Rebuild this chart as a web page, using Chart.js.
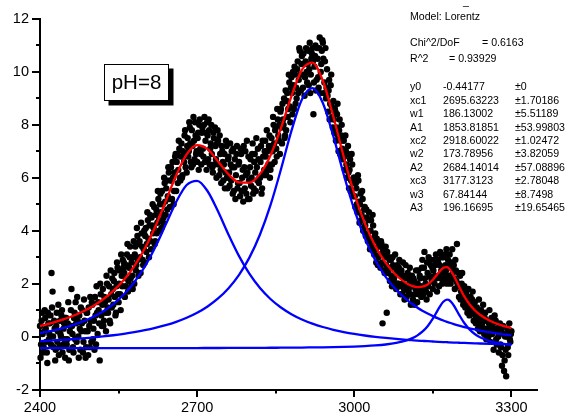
<!DOCTYPE html>
<html><head><meta charset="utf-8">
<script src="https://cdn.jsdelivr.net/npm/chart.js@4/dist/chart.umd.min.js"></script>
<style>html,body{margin:0;padding:0;background:#fff}canvas{display:block}</style>
</head><body>
<canvas id="c" width="576" height="414"></canvas>
<script>
// ---- measured points (intensity vs wavenumber), even wavenumbers ----
const scatterX = [
2400,2402,2404,2406,2408, 2410,2412,2414,2416,2418, 2420,2422,2424,2426,2428, 2430,2432,2434,2436,2438,
2440,2442,2444,2446,2448, 2450,2452,2454,2456,2458, 2460,2462,2464,2466,2468, 2470,2472,2474,2476,2478,
2480,2482,2484,2486,2488, 2490,2492,2494,2496,2498, 2500,2502,2504,2506,2508, 2510,2512,2514,2516,2518,
2520,2522,2524,2526,2528, 2530,2532,2534,2536,2538, 2540,2542,2544,2546,2548, 2550,2552,2554,2556,2558,
2560,2562,2564,2566,2568, 2570,2572,2574,2576,2578, 2580,2582,2584,2586,2588, 2590,2592,2594,2596,2598,
2600,2602,2604,2606,2608, 2610,2612,2614,2616,2618, 2620,2622,2624,2626,2628, 2630,2632,2634,2636,2638,
2640,2642,2644,2646,2648, 2650,2652,2654,2656,2658, 2660,2662,2664,2666,2668, 2670,2672,2674,2676,2678,
2680,2682,2684,2686,2688, 2690,2692,2694,2696,2698, 2700,2702,2704,2706,2708, 2710,2712,2714,2716,2718,
2720,2722,2724,2726,2728, 2730,2732,2734,2736,2738, 2740,2742,2744,2746,2748, 2750,2752,2754,2756,2758,
2760,2762,2764,2766,2768, 2770,2772,2774,2776,2778, 2780,2782,2784,2786,2788, 2790,2792,2794,2796,2798,
2800,2802,2804,2806,2808, 2810,2812,2814,2816,2818, 2820,2822,2824,2826,2828, 2830,2832,2834,2836,2838,
2840,2842,2844,2846,2848, 2850,2852,2854,2856,2858, 2860,2862,2864,2866,2868, 2870,2872,2874,2876,2878,
2880,2882,2884,2886,2888, 2890,2892,2894,2896,2898, 2900,2902,2904,2906,2908, 2910,2912,2914,2916,2918,
2920,2922,2924,2926,2928, 2930,2932,2934,2936,2938, 2940,2942,2944,2946,2948, 2950,2952,2954,2956,2958,
2960,2962,2964,2966,2968, 2970,2972,2974,2976,2978, 2980,2982,2984,2986,2988, 2990,2992,2994,2996,2998,
3000,3002,3004,3006,3008, 3010,3012,3014,3016,3018, 3020,3022,3024,3026,3028, 3030,3032,3034,3036,3038,
3040,3042,3044,3046,3048, 3050,3052,3054,3056,3058, 3060,3062,3064,3066,3068, 3070,3072,3074,3076,3078,
3080,3082,3084,3086,3088, 3090,3092,3094,3096,3098, 3100,3102,3104,3106,3108, 3110,3112,3114,3116,3118,
3120,3122,3124,3126,3128, 3130,3132,3134,3136,3138, 3140,3142,3144,3146,3148, 3150,3152,3154,3156,3158,
3160,3162,3164,3166,3168, 3170,3172,3174,3176,3178, 3180,3182,3184,3186,3188, 3190,3192,3194,3196,3198,
3200,3202,3204,3206,3208, 3210,3212,3214,3216,3218, 3220,3222,3224,3226,3228, 3230,3232,3234,3236,3238,
3240,3242,3244,3246,3248, 3250,3252,3254,3256,3258, 3260,3262,3264,3266,3268, 3270,3272,3274,3276,3278,
3280,3282,3284,3286,3288, 3290,3292,3294,3296,3298, 3300
];
const scatterY = [
0.4,-0.3,0.9,-0.6,0.2, 0.7,-0.2,-1.0,0.5,0.1, 0.8,2.4,1.7,-0.4,0.3, -0.5,0.9,0.2,-0.7,0.6,
0.0,1.0,-0.3,0.5,-0.8, 0.7,-0.1,1.3,-0.5,0.4, 1.8,0.1,-0.6,0.9,1.3, -0.2,0.6,-0.8,0.3,1.1,
0.5,-0.6,1.4,0.2,-0.4, 0.9,-0.7,0.4,1.5,-0.2, 1.2,0.3,-0.5,0.8,1.9, 0.1,1.0,-0.9,1.6,0.4,
1.8,0.6,1.3,0.2,2.0, 0.9,1.9,0.5,1.6,2.2, 1.2,2.4,0.8,1.9,2.6, 1.3,2.5,1.0,2.3,2.9,
2.8,1.5,2.2,3.1,1.7, 2.6,3.4,1.9,2.3,3.0, 2.0,3.4,2.7,3.8,2.3, 3.6,2.4,3.9,2.9,3.3,
2.8,4.1,3.5,4.4,3.0, 4.6,3.3,4.2,3.9,4.9, 3.6,4.8,4.3,5.2,4.0, 5.4,4.1,5.0,4.5,5.8,
4.6,5.9,5.3,6.2,4.9, 6.4,5.2,6.0,5.5,6.8, 5.5,6.9,6.3,7.1,5.9, 7.3,6.1,6.8,7.6,6.4,
6.2,7.5,7.0,7.9,6.6, 7.8,6.5,7.4,8.1,6.9, 6.6,7.7,8.0,7.1,6.5, 7.9,6.8,8.3,7.4,6.3,
7.6,8.2,6.5,7.3,6.9, 6.2,7.5,7.9,6.7,7.3, 7.4,6.1,6.9,5.8,7.0, 5.9,6.9,6.2,7.2,5.6,
6.8,5.7,6.5,7.0,5.4, 5.5,6.7,6.1,7.2,5.8, 6.6,5.3,6.9,6.0,5.1, 6.4,7.0,5.4,6.2,6.8,
5.2,6.7,6.0,7.3,5.6, 6.9,5.5,6.4,7.1,5.8, 6.0,7.2,5.6,6.8,6.3, 7.4,6.1,7.0,6.5,7.6,
6.3,7.5,7.0,8.0,6.6, 7.9,6.8,8.2,7.4,6.9, 8.6,7.3,8.2,9.0,7.6, 7.8,9.2,8.6,9.6,8.1,
9.8,8.4,9.5,10.2,8.8, 9.0,10.4,9.7,10.8,9.3, 10.6,9.4,10.3,9.8,10.9, 9.6,10.8,10.1,9.2,10.5,
10.9,8.4,10.2,11.0,9.7, 10.5,9.4,11.3,10.0,10.8, 11.1,9.2,10.4,9.0,10.1, 8.5,9.7,8.8,9.9,8.3,
8.9,7.7,8.5,7.9,8.8, 7.0,8.2,7.4,8.0,6.7, 7.4,6.3,7.0,6.0,7.2, 5.6,6.7,5.9,6.5,5.3,
6.0,4.9,5.6,4.7,5.9, 4.3,5.4,4.6,5.2,4.1, 4.9,3.8,4.5,3.6,4.7, 3.3,4.4,3.6,4.2,3.1,
3.9,2.8,3.6,3.0,3.5, 2.6,3.5,0.5,3.2,2.4, 3.4,0.9,2.5,3.0,2.1, 2.9,1.9,2.7,2.2,3.1,
1.8,2.7,2.0,2.9,1.6, 2.5,1.6,2.3,1.4,2.7, 1.5,2.4,1.8,2.6,1.2, 2.3,1.4,2.1,1.6,2.5,
1.3,2.5,1.7,2.2,1.5, 2.9,1.6,3.2,2.0,1.4, 2.4,3.0,1.6,2.7,2.1, 1.8,2.9,2.3,3.1,1.7,
2.8,1.9,3.2,2.5,2.0, 3.0,2.2,2.7,3.3,2.1, 2.3,3.1,2.0,2.8,2.4, 2.7,1.8,2.5,3.5,1.9,
1.5,2.3,1.7,2.4,1.2, 1.9,1.1,1.6,0.9,1.8, 0.8,1.5,1.0,1.7,0.6, 1.3,0.5,1.1,0.3,1.4,
0.2,1.0,0.5,1.2,0.1, 0.9,-0.1,0.6,0.0,1.0, -0.2,0.7,0.3,-0.5,0.8, 0.6,-0.3,0.2,-0.6,0.5,
-0.4,-1.1,0.4,-1.3,0.0, -1.5,0.3,-0.7,0.5,-0.2, 0.2
];
// ---- measured points, odd wavenumbers ----
const scatterX2 = [
2401,2403,2405,2407,2409, 2411,2413,2415,2417,2419, 2421,2423,2425,2427,2429, 2431,2433,2435,2437,2439,
2441,2443,2445,2447,2449, 2451,2453,2455,2457,2459, 2461,2463,2465,2467,2469, 2471,2473,2475,2477,2479,
2481,2483,2485,2487,2489, 2491,2493,2495,2497,2499, 2501,2503,2505,2507,2509, 2511,2513,2515,2517,2519,
2521,2523,2525,2527,2529, 2531,2533,2535,2537,2539, 2541,2543,2545,2547,2549, 2551,2553,2555,2557,2559,
2561,2563,2565,2567,2569, 2571,2573,2575,2577,2579, 2581,2583,2585,2587,2589, 2591,2593,2595,2597,2599,
2601,2603,2605,2607,2609, 2611,2613,2615,2617,2619, 2621,2623,2625,2627,2629, 2631,2633,2635,2637,2639,
2641,2643,2645,2647,2649, 2651,2653,2655,2657,2659, 2661,2663,2665,2667,2669, 2671,2673,2675,2677,2679,
2681,2683,2685,2687,2689, 2691,2693,2695,2697,2699, 2701,2703,2705,2707,2709, 2711,2713,2715,2717,2719,
2721,2723,2725,2727,2729, 2731,2733,2735,2737,2739, 2741,2743,2745,2747,2749, 2751,2753,2755,2757,2759,
2761,2763,2765,2767,2769, 2771,2773,2775,2777,2779, 2781,2783,2785,2787,2789, 2791,2793,2795,2797,2799,
2801,2803,2805,2807,2809, 2811,2813,2815,2817,2819, 2821,2823,2825,2827,2829, 2831,2833,2835,2837,2839,
2841,2843,2845,2847,2849, 2851,2853,2855,2857,2859, 2861,2863,2865,2867,2869, 2871,2873,2875,2877,2879,
2881,2883,2885,2887,2889, 2891,2893,2895,2897,2899, 2901,2903,2905,2907,2909, 2911,2913,2915,2917,2919,
2921,2923,2925,2927,2929, 2931,2933,2935,2937,2939, 2941,2943,2945,2947,2949, 2951,2953,2955,2957,2959,
2961,2963,2965,2967,2969, 2971,2973,2975,2977,2979, 2981,2983,2985,2987,2989, 2991,2993,2995,2997,2999,
3001,3003,3005,3007,3009, 3011,3013,3015,3017,3019, 3021,3023,3025,3027,3029, 3031,3033,3035,3037,3039,
3041,3043,3045,3047,3049, 3051,3053,3055,3057,3059, 3061,3063,3065,3067,3069, 3071,3073,3075,3077,3079,
3081,3083,3085,3087,3089, 3091,3093,3095,3097,3099, 3101,3103,3105,3107,3109, 3111,3113,3115,3117,3119,
3121,3123,3125,3127,3129, 3131,3133,3135,3137,3139, 3141,3143,3145,3147,3149, 3151,3153,3155,3157,3159,
3161,3163,3165,3167,3169, 3171,3173,3175,3177,3179, 3181,3183,3185,3187,3189, 3191,3193,3195,3197,3199,
3201,3203,3205,3207,3209, 3211,3213,3215,3217,3219, 3221,3223,3225,3227,3229, 3231,3233,3235,3237,3239,
3241,3243,3245,3247,3249, 3251,3253,3255,3257,3259, 3261,3263,3265,3267,3269, 3271,3273,3275,3277,3279,
3281,3283,3285,3287,3289, 3291,3293,3295,3297,3299
];
const scatterY2 = [
-0.8,0.6,0.1,-0.4,1.0, 0.3,-0.6,0.9,-0.1,0.5, -0.3,1.1,0.0,0.6,-0.9, 0.4,-0.2,1.2,-0.4,0.1,
0.8,-0.6,0.3,-0.1,0.7, -0.3,0.5,-0.9,0.2,1.0, 0.4,-0.4,0.7,-0.1,0.5, 1.5,0.0,0.8,-0.5,0.2,
1.0,-0.2,0.6,-0.8,0.9, 0.2,1.1,-0.4,0.6,1.3, -0.1,0.6,1.5,-0.3,0.9, 1.3,0.5,2.0,0.8,1.2,
0.4,1.5,0.9,2.3,1.1, 1.4,0.6,2.5,1.1,1.8, 2.1,1.5,0.9,2.8,1.6, 2.0,1.6,3.1,1.9,2.6,
2.4,1.9,2.7,3.5,2.1, 3.0,2.2,2.8,1.8,3.6, 3.1,2.5,4.1,2.9,3.5, 3.0,4.3,3.4,2.7,4.0,
3.8,3.2,4.7,3.7,4.2, 3.6,4.5,5.0,4.1,3.5, 4.6,3.9,5.5,4.4,5.0, 4.7,5.5,4.3,6.0,5.1,
5.6,4.8,6.4,5.2,5.9, 5.9,6.6,5.0,6.2,6.9, 6.6,5.8,7.4,6.0,6.8, 6.0,7.0,6.6,7.8,6.9,
7.2,6.8,8.1,7.3,6.4, 7.2,8.3,6.7,7.6,7.0, 7.5,6.3,8.2,6.9,7.7, 7.1,8.0,6.6,7.7,8.1,
6.7,7.8,7.1,8.0,6.4, 7.7,6.5,7.2,6.0,7.8, 6.5,7.6,6.3,7.2,6.6, 6.5,5.6,7.4,6.0,6.7,
6.2,7.3,5.9,6.4,7.1, 6.4,5.2,6.9,5.6,6.5, 5.8,7.1,5.5,6.3,7.2, 5.6,6.1,7.4,5.2,5.9,
6.4,5.7,6.9,5.4,6.6, 6.2,7.5,5.9,6.7,6.0, 6.6,5.4,7.4,6.1,7.0, 6.8,7.8,6.3,7.2,6.0,
7.2,6.5,8.3,7.3,7.8, 7.1,8.6,7.6,8.0,8.5, 7.9,8.8,8.0,7.5,9.3, 8.9,8.3,9.9,8.7,9.4,
9.2,10.0,8.6,9.9,9.4, 10.1,9.2,10.9,9.9,10.3, 9.9,10.7,9.1,10.4,10.0, 10.3,9.5,11.1,9.9,10.7,
10.4,9.6,10.6,9.3,10.9, 9.8,10.9,9.2,10.3,11.2, 10.5,9.6,10.9,9.4,9.1, 9.3,8.2,9.5,8.7,7.9,
8.2,8.6,7.4,8.4,7.6, 7.8,6.9,7.6,7.1,7.5, 6.8,7.6,6.5,6.9,6.2, 6.3,5.5,6.9,5.8,6.0,
5.3,5.8,5.0,6.1,5.1, 5.0,4.4,5.5,4.0,4.8, 4.2,4.8,3.9,4.4,3.7, 4.0,3.5,4.6,3.3,3.8,
3.3,3.7,2.7,3.4,3.1, 3.6,2.8,3.3,2.5,3.0, 2.7,3.2,2.4,2.9,2.6, 2.3,3.0,2.1,2.6,2.0,
2.4,2.0,2.6,1.9,2.3, 2.0,2.8,1.8,2.2,1.9, 2.2,1.7,2.0,1.6,2.2, 1.9,2.2,1.2,1.8,2.0,
2.0,1.6,2.3,1.9,2.6, 1.8,2.6,2.2,1.7,2.8, 1.9,2.3,2.9,2.2,2.6, 2.5,2.0,2.7,2.2,2.9,
2.3,2.7,2.2,3.0,2.6, 2.4,3.1,2.5,2.0,2.9, 2.7,2.1,2.6,3.3,2.2, 2.2,2.9,2.1,2.0,2.4,
1.9,1.4,2.0,1.6,1.8, 1.4,1.7,1.2,1.4,1.1, 1.3,0.9,1.4,1.2,0.9, 0.8,1.0,0.6,0.9,0.4,
0.7,0.4,0.8,0.3,0.7, 0.3,0.6,0.2,0.5,0.4, 0.4,0.1,0.5,0.2,0.3, -0.1,0.3,0.0,0.4,-0.3,
0.3,-0.7,0.1,-0.9,-0.5, 0.0,-0.4,0.2,-0.1,0.1
];

const fitX = [2400,2420,2440,2460,2480,2500,2520,2540,2560,2580,2600,2620,2640,2660,2680,2700,2720,2740,2760,2780,
2800,2820,2840,2860,2880,2900,2920,2940,2960,2980,3000,3020,3040,3060,3080,3100,3110,3120,3130,3140,
3150,3160,3170,3177,3180,3190,3200,3210,3220,3230,3240,3260,3280,3300];
const cumulativeFit = [0.402,0.501,0.618,0.759,0.930,1.139,1.399,1.726,2.139,2.664,3.330,4.152,5.109,6.094,6.885,7.236,7.082,6.618,6.129,5.826,
5.816,6.149,6.846,7.877,9.081,10.076,10.350,9.668,8.315,6.783,5.402,4.286,3.427,2.784,2.318,2.010,1.916,1.870,1.883,1.970,
2.146,2.391,2.602,2.626,2.592,2.304,1.895,1.517,1.219,0.995,0.825,0.589,0.434,0.321];
const peak1Fit = [0.130,0.207,0.300,0.414,0.554,0.728,0.948,1.228,1.588,2.051,2.642,3.377,4.230,5.088,5.725,5.885,5.492,4.725,3.847,3.039,
2.367,1.834,1.420,1.098,0.846,0.647,0.489,0.361,0.257,0.172,0.100,0.041,-0.010,-0.053,-0.091,-0.123,-0.137,-0.151,-0.163,-0.175,
-0.186,-0.197,-0.207,-0.213,-0.216,-0.225,-0.233,-0.241,-0.248,-0.255,-0.262,-0.274,-0.285,-0.295];
const peak2Fit = [-0.173,-0.152,-0.128,-0.101,-0.070,-0.036,0.004,0.050,0.104,0.166,0.239,0.326,0.430,0.556,0.710,0.900,1.138,1.440,1.828,2.333,
2.993,3.856,4.966,6.317,7.770,8.960,9.388,8.828,7.572,6.116,4.795,3.722,2.889,2.254,1.768,1.393,1.239,1.101,0.979,0.871,
0.773,0.686,0.608,0.557,0.537,0.472,0.414,0.361,0.313,0.269,0.228,0.156,0.096,0.044];
const peak3Fit = [-0.438,-0.438,-0.438,-0.438,-0.437,-0.437,-0.437,-0.437,-0.436,-0.436,-0.435,-0.435,-0.434,-0.434,-0.433,-0.433,-0.432,-0.431,-0.430,-0.428,
-0.427,-0.425,-0.423,-0.421,-0.418,-0.415,-0.410,-0.405,-0.398,-0.389,-0.377,-0.360,-0.336,-0.300,-0.242,-0.145,-0.069,0.036,0.183,0.391,
0.675,1.019,1.317,1.399,1.388,1.173,0.830,0.513,0.271,0.098,-0.025,-0.177,-0.261,-0.311];

// ---- axes ----
const xMajorTicks = [2400, 2700, 3000, 3300];
const xMinorTicks = [2550, 2850, 3150];
const yMajorTicks = [-2, 0, 2, 4, 6, 8, 10, 12];
const yMinorTicks = [-1, 1, 3, 5, 7, 9, 11];

// ---- annotation text ----
const sampleLabel = 'pH=8';
const modelLabel = 'Model: Lorentz';
const chiLabel = ['Chi^2/DoF', '= 0.6163'];
const r2Label = ['R^2', '= 0.93929'];
const paramNames = ['y0','xc1','w1','A1','xc2','w2','A2','xc3','w3','A3'];
const paramValues = ['-0.44177','2695.63223','186.13002','1853.81851','2918.60022','173.78956','2684.14014','3177.3123','67.84144','196.16695'];
const paramErrors = ['±0','±1.70186','±5.51189','±53.99803','±1.02472','±3.82059','±57.08896','±2.78048','±8.7498','±19.65465'];

const FONT = "'Liberation Sans', Arial, sans-serif";
const pts = (xs, ys) => xs.map((x, i) => ({x, y: ys[i]}));

const overlay = {
  id: 'overlay',
  afterDraw(chart) {
    const ctx = chart.ctx;
    const xs = chart.scales.x, ys = chart.scales.y;
    ctx.save();
    ctx.strokeStyle = '#000';
    ctx.lineWidth = 2;
    const bottom = ys.getPixelForValue(-2);
    const left = xs.getPixelForValue(2400);
    xMajorTicks.concat(xMinorTicks).forEach(v => {
      const p = Math.round(xs.getPixelForValue(v));
      const len = xMajorTicks.includes(v) ? 7.5 : 4;
      ctx.beginPath(); ctx.moveTo(p, bottom); ctx.lineTo(p, bottom + len); ctx.stroke();
    });
    yMajorTicks.concat(yMinorTicks).forEach(v => {
      const p = Math.round(ys.getPixelForValue(v));
      const len = yMajorTicks.includes(v) ? 8 : 4;
      ctx.beginPath(); ctx.moveTo(left, p); ctx.lineTo(left - len, p); ctx.stroke();
    });
    ctx.fillStyle = '#000';
    ctx.font = '10.6px ' + FONT;
    ctx.textBaseline = 'middle';
    ctx.textAlign = 'left';
    ctx.fillText('_', 463, 2);
    ctx.fillText(modelLabel, 410, 17);
    ctx.fillText(chiLabel[0], 410, 43.5);
    ctx.fillText(chiLabel[1], 482, 43.5);
    ctx.fillText(r2Label[0], 410, 59);
    ctx.fillText(r2Label[1], 449, 59);
    paramNames.forEach((n, i) => {
      const y = 87.5 + i * 13.4;
      ctx.fillText(n, 410, y);
      ctx.fillText(paramValues[i], 443, y);
      ctx.fillText(paramErrors[i], 515, y);
    });
    ctx.fillStyle = '#000';
    ctx.fillRect(108.5, 68.5, 65, 37);
    ctx.fillStyle = '#fff';
    ctx.fillRect(104, 64, 65, 37);
    ctx.strokeStyle = '#000';
    ctx.lineWidth = 1;
    ctx.strokeRect(104.5, 64.5, 64, 36);
    ctx.fillStyle = '#000';
    ctx.font = '20.5px ' + FONT;
    ctx.textAlign = 'center';
    ctx.textBaseline = 'alphabetic';
    ctx.fillText(sampleLabel, 136.5, 89);
    ctx.restore();
  }
};

const dotStyle = { backgroundColor: '#000', borderWidth: 0, pointRadius: 3.2, pointHoverRadius: 3.2, order: 10, clip: 4 };
const lineStyle = { showLine: true, borderWidth: 2.3, pointRadius: 0, cubicInterpolationMode: 'monotone' };

new Chart(document.getElementById('c'), {
  type: 'scatter',
  data: {
    datasets: [
      Object.assign({ data: pts(scatterX, scatterY) }, dotStyle),
      Object.assign({ data: pts(scatterX2, scatterY2) }, dotStyle),
      Object.assign({ data: pts(fitX, peak3Fit), borderColor: '#0000ff', order: 4 }, lineStyle),
      Object.assign({ data: pts(fitX, peak2Fit), borderColor: '#0000ff', order: 3 }, lineStyle),
      Object.assign({ data: pts(fitX, peak1Fit), borderColor: '#0000ff', order: 2 }, lineStyle),
      Object.assign({ data: pts(fitX, cumulativeFit), borderColor: '#ff0000', order: 1 }, lineStyle)
    ]
  },
  options: {
    responsive: false,
    animation: false,
    devicePixelRatio: 1,
    layout: { padding: { top: 19, right: 38.4, left: 0, bottom: 0 } },
    plugins: { legend: { display: false }, tooltip: { enabled: false } },
    scales: {
      x: {
        type: 'linear', min: 2400, max: 3350,
        afterFit(s) { s.height = 24.5; },
        afterBuildTicks(s) { s.ticks = xMajorTicks.map(v => ({value: v})); },
        grid: { display: false, drawTicks: true, tickLength: 7.5 },
        border: { display: true, color: '#000', width: 2 },
        ticks: { autoSkip: false, maxRotation: 0, padding: 2, color: '#000', font: { family: FONT, size: 14.5 },
                 callback: v => String(v) }
      },
      y: {
        type: 'linear', min: -2, max: 12,
        afterFit(s) { s.width = 40; },
        afterBuildTicks(s) { s.ticks = yMajorTicks.map(v => ({value: v})); },
        grid: { display: false, drawTicks: true, tickLength: 8 },
        border: { display: true, color: '#000', width: 2 },
        ticks: { autoSkip: false, padding: 3, color: '#000', font: { family: FONT, size: 14.5 },
                 callback: v => String(v) }
      }
    }
  },
  plugins: [overlay]
});
</script>
</body></html>
